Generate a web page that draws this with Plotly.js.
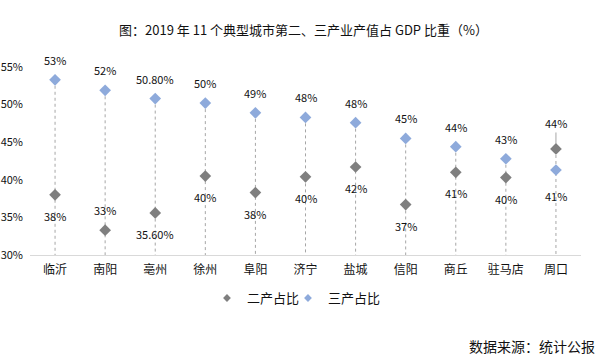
<!DOCTYPE html>
<html>
<head>
<meta charset="utf-8">
<script src="https://cdn.plot.ly/plotly-3.0.1.min.js"></script>
<style>html,body{margin:0;padding:0;background:#fff;}#chart{width:607px;height:362px;}</style>
</head>
<body>
<div id="chart"></div>
<script>
// ---- data ----
const cities = ['临沂','南阳','亳州','徐州','阜阳','济宁','盐城','信阳','商丘','驻马店','周口'];
const secondShare = [38.0, 33.3, 35.6, 40.5, 38.3, 40.4, 41.7, 36.7, 41.0, 40.3, 44.1];
const thirdShare  = [53.3, 51.9, 50.8, 50.2, 48.9, 48.3, 47.6, 45.5, 44.4, 42.8, 41.3];
const secondLabels = ['38%','33%','35.60%','40%','38%','40%','42%','37%','41%','40%','44%'];
const thirdLabels  = ['53%','52%','50.80%','50%','49%','48%','48%','45%','44%','43%','41%'];
const seriesNames = ['二产占比','三产占比'];
const yTickVals = [30, 35, 40, 45, 50, 55];
const yTickText = ['30%','35%','40%','45%','50%','55%'];

// ---- styling ----
const FONT = '"Noto Sans CJK SC", "Noto Sans", sans-serif';
const C2 = '#7f7f7f', C3 = '#8eaadb';

// drop lines from the higher point down to the axis
const dropX = [], dropY = [];
cities.forEach((c, i) => {
  dropX.push(c, c, null);
  dropY.push(Math.max(secondShare[i], thirdShare[i]), 30, null);
});

const traces = [
  {x: dropX, y: dropY, mode: 'lines', line: {color: '#a6a6a6', width: 1, dash: '3px,3px'},
   hoverinfo: 'skip', showlegend: false},
  {x: cities, y: secondShare, name: seriesNames[0], mode: 'markers', type: 'scatter', showlegend: false,
   marker: {symbol: 'diamond', size: 9, color: C2}, cliponaxis: false},
  {x: cities, y: thirdShare, name: seriesNames[1], mode: 'markers', type: 'scatter', showlegend: false,
   marker: {symbol: 'diamond', size: 9, color: C3}, cliponaxis: false},
  // legend entries (smaller symbols as in the original legend)
  {x: [null], y: [null], name: seriesNames[0], mode: 'markers', type: 'scatter', legend: 'legend',
   marker: {symbol: 'diamond', size: 6, color: C2}},
  {x: [null], y: [null], name: seriesNames[1], mode: 'markers', type: 'scatter', legend: 'legend2',
   marker: {symbol: 'diamond', size: 6, color: C3}}
];

// label placement (presentation only)
const anns = [];
const lblFont = {family: FONT, size: 11, color: '#111'};
cities.forEach((c, i) => {
  const last = i === cities.length - 1;
  anns.push({x: c, y: thirdShare[i], text: thirdLabels[i], showarrow: false,
             yshift: last ? -26 : 20, font: lblFont});
  if (last) {
    anns.push({x: c, y: secondShare[i], text: secondLabels[i], showarrow: true,
               arrowhead: 0, arrowwidth: 1, arrowcolor: '#a6a6a6', ax: 0, ay: -26,
               standoff: 5, font: lblFont});
  } else {
    const above = (i === 1);
    anns.push({x: c, y: secondShare[i], text: secondLabels[i], showarrow: false,
               yshift: above ? 20 : -21, font: lblFont});
  }
});
anns.push({xref: 'paper', yref: 'paper', x: 1.029, y: -0.484, xanchor: 'right', yanchor: 'middle',
           text: '数据来源：统计公报', showarrow: false, font: {family: FONT, size: 14, color: '#111'}});

const legendBase = {orientation: 'h', y: -0.229, yanchor: 'middle', xanchor: 'left',
  font: {family: FONT, size: 13, color: '#111'}, itemwidth: 30, bgcolor: 'rgba(0,0,0,0)'};

const layout = {
  width: 607, height: 362,
  margin: {l: 30, r: 26, t: 67, b: 107},
  paper_bgcolor: '#fff', plot_bgcolor: '#fff',
  font: {family: FONT, color: '#111'},
  title: {text: '图：2019 年 11 个典型城市第二、三产业产值占 GDP 比重（%）',
          x: 0.5, xanchor: 'center', y: 0.915, yanchor: 'middle',
          font: {family: FONT, size: 13, color: '#111'}},
  xaxis: {type: 'category', range: [-0.5, 10.5], showgrid: false, zeroline: false,
          showline: true, linecolor: '#d9d9d9', linewidth: 1, ticks: '',
          ticklabelstandoff: 4, tickfont: {family: FONT, size: 12, color: '#111'}, fixedrange: true},
  yaxis: {range: [30, 55], tickvals: yTickVals, ticktext: yTickText, showgrid: false,
          zeroline: false, showline: false, ticks: '', ticklabelstandoff: 6,
          tickfont: {family: FONT, size: 11, color: '#111'}, fixedrange: true},
  showlegend: true,
  legend: Object.assign({}, legendBase, {x: 0.3212}),
  legend2: Object.assign({}, legendBase, {x: 0.4682}),
  annotations: anns
};

Plotly.newPlot('chart', traces, layout, {displayModeBar: false, staticPlot: true});
</script>
</body>
</html>
